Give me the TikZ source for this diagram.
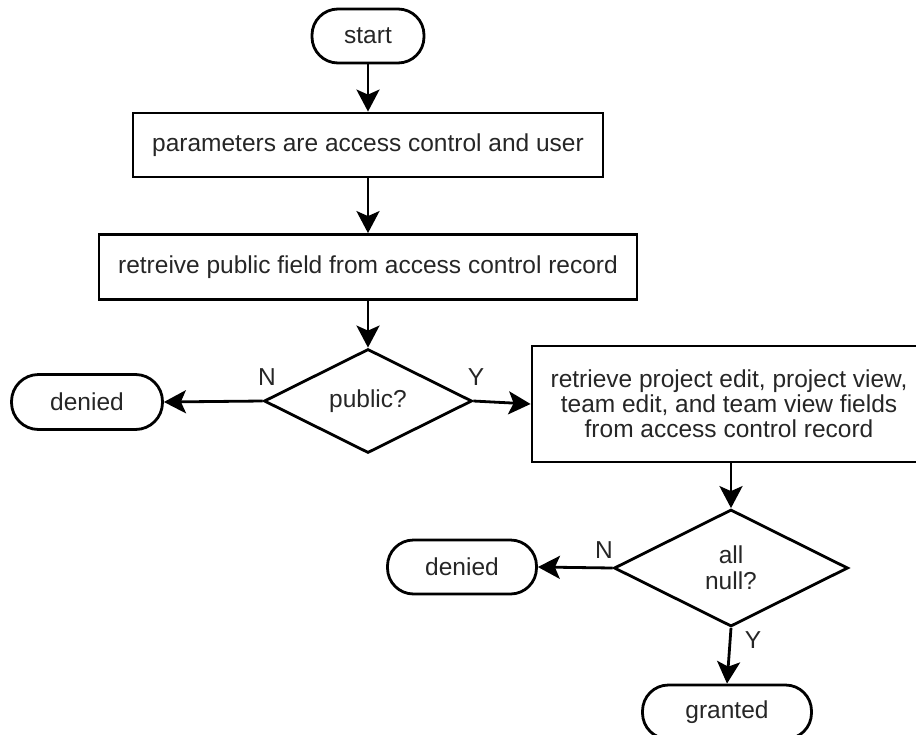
\documentclass[tikz,border=0pt]{standalone}
\usepackage{fontspec}
\setmainfont{Liberation Sans}
\usetikzlibrary{shapes.geometric,arrows.meta}
\begin{document}
\begin{tikzpicture}[x=1pt,y=-1pt,
  every node/.style={font=\fontsize{24.5}{25}\selectfont, text=black!85},
  term/.style={draw, line width=2.8pt, rounded corners=26pt, minimum height=54pt, inner sep=0pt},
  proc/.style={draw, line width=2.8pt, inner sep=0pt},
  dec/.style={draw, line width=2.8pt, diamond, inner sep=0pt, align=center},
  arr/.style={line width=2.8pt, -{Stealth[length=22pt,width=23pt,inset=5pt]}},
  lbl/.style={inner sep=0pt}
]
\useasboundingbox (0,0) rectangle (916,734);
\clip (0,0) rectangle (916,734);

\node[term, minimum width=112pt] (start) at (368,36) {start};
\node[proc, minimum width=470pt, minimum height=64pt] (p1) at (368,145) {parameters are access control and user};
\node[proc, minimum width=538pt, minimum height=65pt] (p2) at (368,267) {retreive public field from access control record};
\node[dec, minimum width=208pt, minimum height=104pt] (d1) at (368,401) {public?};
\node[term, minimum width=151pt, minimum height=55pt, rounded corners=27pt] (den1) at (87,402) {denied};
\node[proc, minimum width=394pt, minimum height=116pt, align=center] (p3) at (729,404)
  {retrieve project edit, project view,\\ team edit, and team view fields\\ from access control record};
\node[dec, minimum width=234pt, minimum height=117pt, font=\fontsize{24.5}{26}\selectfont] (d2) at (731,568) {all\\ null?};
\node[term, minimum width=149pt] (den2) at (462,567) {denied};
\node[term, minimum width=169pt] (gr) at (727,712) {granted};

\draw[arr] (start) -- (p1);
\draw[arr] (p1) -- (p2);
\draw[arr] (p2) -- (d1);
\draw[arr] (d1.west) -- (den1.east);
\draw[arr] (d1.east) -- (p3.west);
\draw[arr] (p3.south -| d2.north) -- (d2.north);
\draw[arr] (d2.west) -- (den2.east);
\draw[arr] (d2.south) -- (gr.north);

\node[lbl] (n1) at (267,377) {N};
\node[lbl] (y1) at (476,377) {Y};
\node[lbl] (n2) at (604,550) {N};
\node[lbl] (y2) at (753,640) {Y};
\end{tikzpicture}
\end{document}
